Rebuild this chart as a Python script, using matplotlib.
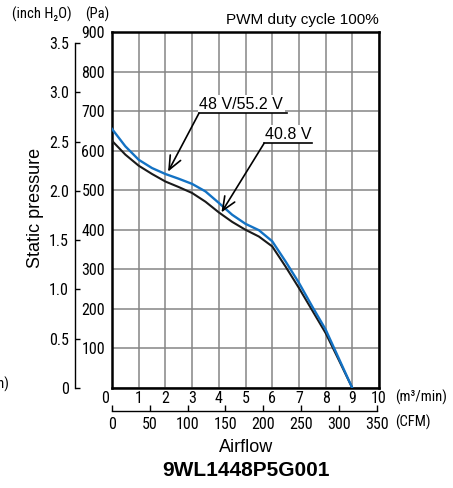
import matplotlib
matplotlib.use("Agg")
import matplotlib.pyplot as plt
import numpy as np

# ---- data ----
airflow = [0, 0.5, 1, 1.5, 2, 2.5, 3, 3.5, 4, 4.5, 5, 5.5, 6, 6.5, 7, 7.5, 8, 8.5, 9]
p_48v = [655, 611, 577, 556, 541, 529, 516, 497, 468, 438, 415, 399, 371, 320, 266, 206, 148, 74, 0]
p_408v = [625, 590, 562, 541, 522, 508, 493, 471, 444, 420, 400, 383, 358, 307, 253, 196, 139, 70, 0]
x_ticks = list(range(0, 11))
pa_ticks = list(range(0, 901, 100))
inch_ticks = [0, 0.5, 1.0, 1.5, 2.0, 2.5, 3.0, 3.5]
inch_labels = ["0", "0.5", "1.0", "1.5", "2.0", "2.5", "3.0", "3.5"]
cfm_ticks = [0, 50, 100, 150, 200, 250, 300, 350]
PA_PER_INCH = 249.089
CFM_PER_M3MIN = 35.3147

NARROW = ["Roboto Condensed", "DejaVu Sans"]
REG = ["Liberation Sans", "DejaVu Sans"]
NS = 11.5  # narrow font size

W, H = 453, 488
fig = plt.figure(figsize=(W / 100, H / 100), dpi=100)
PX = 72 / 100  # points per pixel

def fx(px):
    return px / W

def fy(py):
    return 1 - py / H

L, R, T, B = 112, 379, 32, 388
ax = fig.add_axes([fx(L), fy(B), fx(R) - fx(L), fy(T) - fy(B)])
ax.set_xlim(0, 10)
ax.set_ylim(0, 900)
ax.set_xticks(x_ticks)
ax.set_yticks(pa_ticks)
ax.grid(True, color="#858585", lw=1.1)
ax.set_axisbelow(True)
for s in ax.spines.values():
    s.set_linewidth(1.8)
    s.set_color("black")
ax.tick_params(length=0, labelsize=NS, pad=5)
ax.set_yticklabels([""] + [str(v) for v in pa_ticks[1:]], fontfamily=NARROW)
ax.set_xticklabels([""] + [str(v) for v in x_ticks[1:]], fontfamily=NARROW)
ax.tick_params(axis="x", pad=2)
ax.text(-0.27, -3 / (B - T), "0", transform=ax.get_xaxis_transform(), ha="center", va="top",
        fontsize=NS, fontfamily=NARROW)

ax.plot(airflow, p_408v, color="#1a1a1a", lw=1.5, zorder=3)
ax.plot(airflow, p_48v, color="#1372c4", lw=1.7, zorder=4)

# annotations
arrowkw = dict(arrowstyle="->,head_length=0.7,head_width=0.3", color="black", lw=1.2,
               shrinkA=0, shrinkB=0, mutation_scale=14)
ax.annotate("", xy=(2.1, 547), xytext=(3.26, 695), arrowprops=arrowkw, zorder=6)
ax.plot([3.26, 6.54], [695, 695], color="black", lw=1.2, zorder=6)
ax.text(4.84, 699, "48 V/55.2 V", ha="center", va="bottom", fontsize=11.5, fontfamily=REG,
        bbox=dict(facecolor="white", edgecolor="none", pad=1), zorder=5)
ax.annotate("", xy=(4.1, 444), xytext=(5.7, 619), arrowprops=arrowkw, zorder=6)
ax.plot([5.7, 7.5], [619, 619], color="black", lw=1.2, zorder=6)
ax.text(6.61, 623, "40.8 V", ha="center", va="bottom", fontsize=11.5, fontfamily=REG,
        bbox=dict(facecolor="white", edgecolor="none", pad=1), zorder=5)

# inch H2O axis
ax2 = fig.add_axes([fx(L), fy(B), fx(R) - fx(L), fy(T) - fy(B)])
ax2.patch.set_visible(False)
ax2.set_ylim(0, 900 / PA_PER_INCH)
ax2.set_xticks([])
for k in ["top", "right", "bottom"]:
    ax2.spines[k].set_visible(False)
ax2.spines["left"].set_position(("outward", 37 * PX))
ax2.spines["left"].set_bounds(0, 3.5)
ax2.spines["left"].set_linewidth(1.0)
ax2.set_yticks(inch_ticks)
ax2.set_yticklabels(inch_labels, fontfamily=NARROW)
ax2.tick_params(axis="y", direction="in", length=5 * PX, width=1.0, labelsize=NS, pad=6 * PX)

# CFM axis
cfm_y = 411
ax3 = fig.add_axes([fx(L), fy(cfm_y), fx(R) - fx(L), 0.0001])
ax3.patch.set_visible(False)
ax3.set_xlim(0, 10 * CFM_PER_M3MIN)
ax3.set_yticks([])
for k in ["top", "right", "left"]:
    ax3.spines[k].set_visible(False)
ax3.spines["bottom"].set_bounds(0, 350)
ax3.spines["bottom"].set_linewidth(1.0)
ax3.set_xticks(cfm_ticks)
ax3.set_xticklabels([str(v) for v in cfm_ticks], fontfamily=NARROW)
ax3.tick_params(axis="x", direction="in", length=6 * PX, width=1.0, labelsize=NS, pad=4)

# texts
fig.text(fx(379), fy(20), "PWM duty cycle 100%", ha="right", va="center", fontsize=11, fontfamily=REG)
fig.text(fx(42), fy(14), "(inch H\u2082O)", ha="center", va="center", fontsize=10.5, fontfamily=NARROW)
fig.text(fx(97), fy(14), "(Pa)", ha="center", va="center", fontsize=10.5, fontfamily=NARROW)
fig.text(fx(35), fy(208), "Static pressure", ha="center", va="center", rotation=90, fontsize=13, fontfamily=REG)
fig.text(fx(395), fy(397), "(m\u00b3/min)", ha="left", va="center", fontsize=10.5, fontfamily=NARROW)
fig.text(fx(395), fy(422), "(CFM)", ha="left", va="center", fontsize=10.5, fontfamily=NARROW)
fig.text(fx(9), fy(384), "(m\u00b3/min)", ha="right", va="center", fontsize=10.5, fontfamily=NARROW)
fig.text(fx(246), fy(448), "Airflow", ha="center", va="center", fontsize=13, fontfamily=REG)
fig.text(fx(246), fy(470), "9WL1448P5G001", ha="center", va="center", fontsize=15, fontweight="bold", fontfamily=REG)

fig.savefig("out.png", dpi=100)
